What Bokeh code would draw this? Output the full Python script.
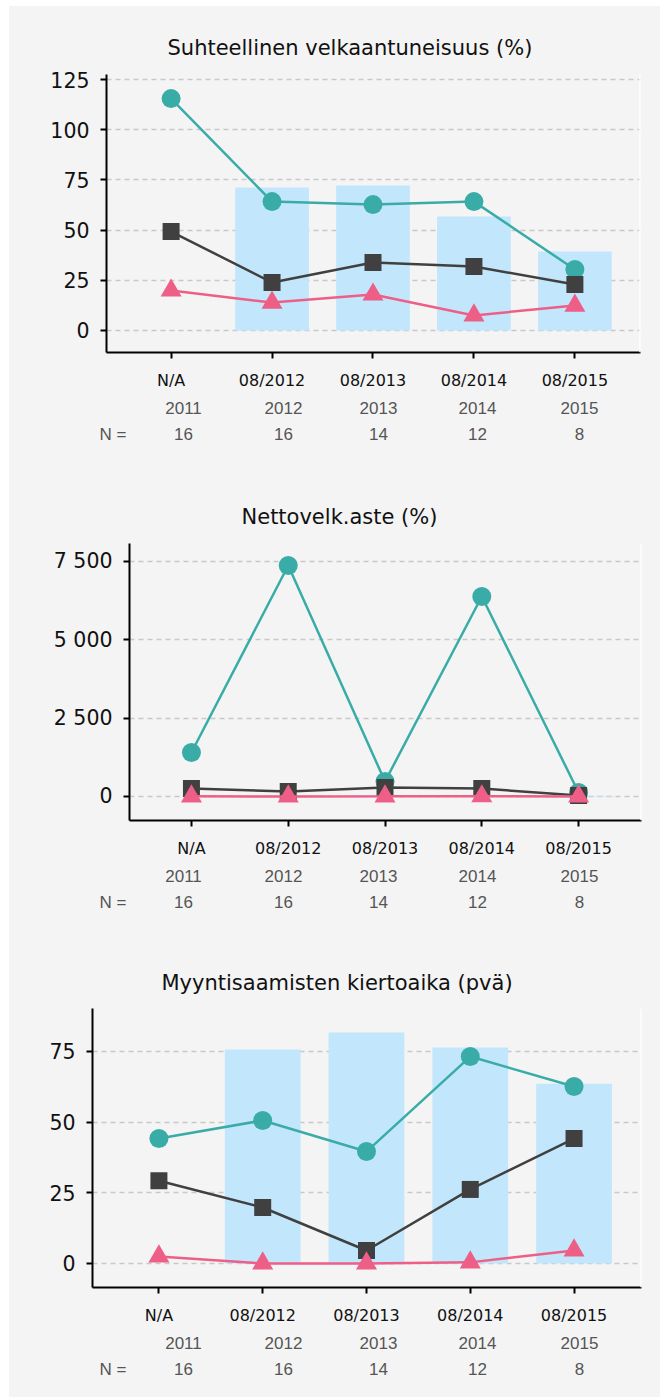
from bokeh.plotting import figure
from bokeh.models import FixedTicker, LinearAxis, Range1d, Span, Title
from bokeh.embed import file_html
from bokeh.resources import INLINE

# ---------------- data ----------------
positions = [0, 1, 2, 3, 4]
x_labels = ["N/A", "08/2012", "08/2013", "08/2014", "08/2015"]
years = ["2011", "2012", "2013", "2014", "2015"]
n_counts = ["16", "16", "14", "12", "8"]
n_prefix = "N ="
bar_positions = [1, 2, 3, 4]

c1_title = "Suhteellinen velkaantuneisuus (%)"
c1_bars = [71.2, 72.2, 56.8, 39.3]
c1_teal = [115.5, 64.2, 62.7, 64.2, 30.4]
c1_gray = [49.3, 23.9, 33.9, 31.9, 22.9]
c1_pink = [19.9, 13.9, 17.9, 7.5, 12.4]
c1_ticks = [0, 25, 50, 75, 100, 125]

c2_title = "Nettovelk.aste (%)"
c2_bars = [40, 45, 35, 25]
c2_teal = [1404, 7373, 479, 6384, 128]
c2_gray = [255, 160, 287, 255, 32]
c2_pink = [5, 3, 4, 6, 2]
c2_ticks = [0, 2500, 5000, 7500]
c2_tick_labels = ["0", "2 500", "5 000", "7 500"]

c3_title = "Myyntisaamisten kiertoaika (pvä)"
c3_bars = [75.7, 81.7, 76.4, 63.6]
c3_teal = [44.2, 50.6, 39.6, 73.2, 62.6]
c3_gray = [29.3, 19.8, 4.6, 26.2, 44.2]
c3_pink = [2.5, 0.0, 0.0, 0.4, 4.6]
c3_ticks = [0, 25, 50, 75]

# ---------------- style ----------------
BG = "#f4f4f4"
TEAL = "#3aaca7"
GRAY = "#404040"
PINK = "#ee5f87"
BAR = "#c2e6fb"
GRID = "#c8c8c8"
FONT = "DejaVu Sans"
FONT2 = "Liberation Sans"
W = 651
PAGE_LEFT = 9
X0, X1 = -0.64, 4.65
row2_page_x = [183, 283, 378, 477, 579]
nlabel_page_left = 99


def make_chart(title, title_page_left, bars, teal, gray, pink, ticks,
               tick_labels, y0, y1, H, left, right, top, bottom, title_standoff):
    p = figure(width=W, height=H, x_range=Range1d(X0, X1),
               y_range=Range1d(y0, y1), output_backend="svg",
               toolbar_location=None, background_fill_color=BG,
               border_fill_color=BG, outline_line_color=None,
               min_border_left=left, min_border_right=right,
               min_border_top=top, min_border_bottom=bottom)
    p.styles = {"background-color": BG}
    frame_left = PAGE_LEFT + left
    frame_w = W - left - right
    p.xgrid.visible = False
    p.ygrid.grid_line_color = GRID
    p.ygrid.grid_line_dash = "5 4"
    p.ygrid.grid_line_width = 1.5
    p.ygrid.ticker = FixedTicker(ticks=ticks)

    p.vbar(x=bar_positions, top=bars, bottom=0, width=0.73,
           color=BAR, line_color=None)
    for vals, col, marker, size in ((teal, TEAL, "circle", 19),
                                    (gray, GRAY, "square", 17),
                                    (pink, PINK, "triangle", 21)):
        p.line(positions, vals, line_color=col, line_width=2.5)
        p.scatter(positions, vals, marker=marker, size=size,
                  fill_color=col, line_color=None)

    p.add_layout(Span(location=X1, dimension="height", line_color="white",
                      line_width=2.5))

    # title
    p.title.text = title
    p.title.align = "left"
    p.title.offset = title_page_left - frame_left
    p.title.text_font = FONT
    p.title.text_font_size = "21px"
    p.title.text_font_style = "normal"
    p.title.text_color = "#111111"
    p.title.standoff = title_standoff

    ya = p.yaxis[0]
    ya.ticker = FixedTicker(ticks=ticks)
    if tick_labels is not None:
        ya.major_label_overrides = {t: l for t, l in zip(ticks, tick_labels)}
    ya.axis_line_width = 2
    ya.major_tick_line_width = 2
    ya.major_tick_out = 6
    ya.major_tick_in = 0
    ya.minor_tick_line_color = None
    ya.major_label_text_font = FONT
    ya.major_label_text_font_size = "20.5px"
    ya.major_label_text_color = "#111111"
    ya.major_label_standoff = 11

    xa = p.xaxis[0]
    xa.ticker = FixedTicker(ticks=positions)
    xa.major_label_overrides = {i: l for i, l in zip(positions, x_labels)}
    xa.axis_line_width = 2
    xa.major_tick_line_width = 2
    xa.major_tick_out = 6
    xa.major_tick_in = 0
    xa.minor_tick_line_color = None
    xa.major_label_text_font = FONT
    xa.major_label_text_font_size = "16px"
    xa.major_label_text_color = "#111111"
    xa.major_label_standoff = 12

    # second and third label rows (years, N counts) as extra label-only axes
    row_x = [round(X0 + (px - frame_left) * (X1 - X0) / frame_w, 4)
             for px in row2_page_x]
    for labels, standoff in ((years, 9), (n_counts, 11)):
        ax = LinearAxis(ticker=FixedTicker(ticks=row_x),
                        major_label_overrides={t: l for t, l in zip(row_x, labels)},
                        axis_line_color=None, major_tick_line_color=None,
                        minor_tick_line_color=None, major_tick_out=0,
                        major_tick_in=0, major_label_standoff=standoff,
                        major_label_text_font=FONT2,
                        major_label_text_font_size="17px",
                        major_label_text_color="#555555")
        p.add_layout(ax, "below")

    p.add_layout(Title(text=n_prefix, align="left",
                       offset=nlabel_page_left - frame_left,
                       vertical_align="top", standoff=-35,
                       text_font=FONT2, text_font_size="17px",
                       text_font_style="normal", text_color="#555555"),
                 "below")
    return p


p1 = make_chart(c1_title, 167, c1_bars, c1_teal, c1_gray, c1_pink, c1_ticks,
                None, -10.96, 127.5, 469, 97, 20, 68, 123, 30)
p2 = make_chart(c2_title, 241, c2_bars, c2_teal, c2_gray, c2_pink, c2_ticks,
                c2_tick_labels, -766, 8074, 467, 120, 19, 68, 122, 30)
p3 = make_chart(c3_title, 161, c3_bars, c3_teal, c3_gray, c3_pink, c3_ticks,
                None, -8.49, 90.2, 455, 83, 19, 66, 110, 28)
p1.margin = (6, 0, 0, PAGE_LEFT)
p2.margin = (0, 0, 0, PAGE_LEFT)
p3.margin = (0, 0, 0, PAGE_LEFT)

open("out.html", "w").write(file_html([p1, p2, p3], INLINE))
